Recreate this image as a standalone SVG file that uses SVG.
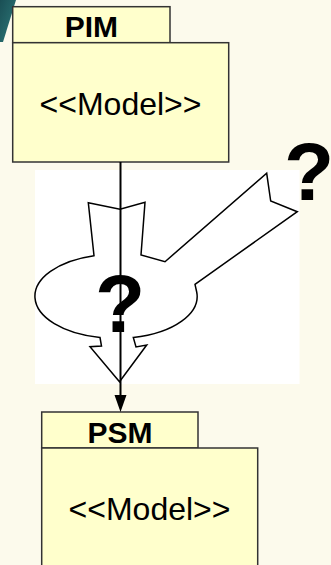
<svg xmlns="http://www.w3.org/2000/svg" width="331" height="565" viewBox="0 0 331 565">
  <defs>
    <style>
      .box { fill: #ffffcc; stroke: #333333; stroke-width: 1.5; }
      .title { font-family: "Liberation Sans", Arial, sans-serif; font-weight: bold; font-size: 30px; fill: #000; text-anchor: middle; }
      .stereo { font-family: "Liberation Sans", Arial, sans-serif; font-size: 32px; fill: #000; text-anchor: middle; }
      .q { font-family: "Liberation Sans", Arial, sans-serif; font-weight: bold; font-size: 82px; fill: #000; text-anchor: middle; }
      .conn { stroke: #000; stroke-width: 2; fill: none; }
      .shape { fill: #ffffff; stroke: #000; stroke-width: 1.5; stroke-linejoin: miter; }
    </style>
    <linearGradient id="teal" x1="0" y1="0" x2="1" y2="1">
      <stop offset="0" stop-color="#1a4f55"/>
      <stop offset="1" stop-color="#2e7a7a"/>
    </linearGradient>
  </defs>

  <rect x="0" y="0" width="331" height="565" fill="#fcfaec"/>
  <polygon points="0,0 16,0 3,42 0,42" fill="url(#teal)"/>

  <rect x="35" y="170" width="264.5" height="214" fill="#ffffff"/>

  <g id="transform-shape">
    <path class="shape" d="M88.3,202.7 L120,209.3 L145,202.3 L141,255 L165,261.7 L266.7,173.3 L270.7,201 L297.3,211.7 L195,284.3 L196.7,292 A80 42 0 0 1 133.3,337.5 L136,347 L146.7,345 L119.5,381.7 L90,346.7 L101.5,346 L100,337.5 A80 42 0 0 1 94,255.7 Z"/>
  </g>

  <g id="pim">
    <rect class="box" x="12.7" y="6.7" width="157.3" height="36"/>
    <rect class="box" x="12.7" y="42.7" width="216" height="119.3"/>
    <text class="title" x="91.3" y="37">PIM</text>
    <text class="stereo" x="120.5" y="115">&lt;&lt;Model&gt;&gt;</text>
  </g>

  <g id="psm">
    <rect class="box" x="41.7" y="412" width="156.3" height="36"/>
    <rect class="box" x="41.7" y="448" width="216" height="130"/>
    <text class="title" x="120" y="443">PSM</text>
    <text class="stereo" x="149.5" y="520">&lt;&lt;Model&gt;&gt;</text>
  </g>

  <g id="connectors">
    <line class="conn" x1="120.5" y1="162" x2="120.5" y2="395"/>
    <path d="M114.5,395 L126.5,395 L120.5,412 Z" fill="#000"/>
  </g>

  <g id="question-marks">
    <text class="q" x="120" y="331.7">?</text>
    <text class="q" x="309" y="200">?</text>
  </g>
</svg>
